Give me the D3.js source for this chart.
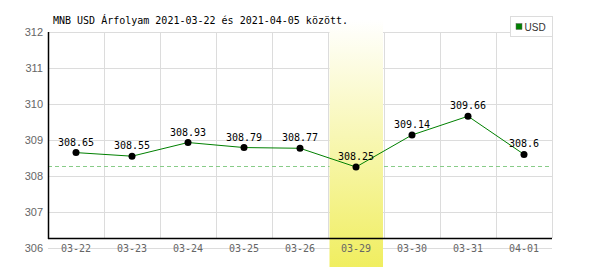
<!DOCTYPE html>
<html lang="hu">
<head>
<meta charset="UTF-8" />
<title>MNB USD árfolyam</title>
<script src="https://cdn.jsdelivr.net/npm/d3@7"></script>
<style>
  body { margin: 0; background: #fff; }
  .mono { font-family: "DejaVu Sans Mono", monospace; }
  .sans { font-family: "Liberation Sans", Arial, sans-serif; }
</style>
</head>
<body>
<svg width="600" height="270"></svg>
<script>
// data
var days = ["03-22", "03-23", "03-24", "03-25", "03-26", "03-29", "03-30", "03-31", "04-01"];
var rates = [308.65, 308.55, 308.93, 308.79, 308.77, 308.25, 309.14, 309.66, 308.6];
var yTicks = [306, 307, 308, 309, 310, 311, 312];
var highlightDay = "03-29";
var title = "MNB USD Árfolyam 2021-03-22 és 2021-04-05 között.";

var svg = d3.select("svg");
var plotLeft = 48, plotRight = 552, plotTop = 32, axisY = 238;

var x = d3.scaleBand().domain(days).range([plotLeft, plotRight]);
var y = d3.scaleLinear().domain([306, 312]).range([248, plotTop]);

// grid
var grid = svg.append("g").attr("shape-rendering", "crispEdges");
grid.selectAll("line.h")
  .data(yTicks)
  .enter().append("line")
  .attr("x1", plotLeft).attr("x2", plotRight)
  .attr("y1", function(d) { return Math.round(y(d)) + 0.5; })
  .attr("y2", function(d) { return Math.round(y(d)) + 0.5; })
  .attr("stroke", "#dcdcdc");

grid.selectAll("line.v")
  .data(days)
  .enter().append("line")
  .attr("x1", function(d) { return x(d) + x.bandwidth() + 0.5; })
  .attr("x2", function(d) { return x(d) + x.bandwidth() + 0.5; })
  .attr("y1", plotTop).attr("y2", axisY)
  .attr("stroke", "#dcdcdc");

// min line (dashed)
var minVal = d3.min(rates);
svg.append("line")
  .attr("x1", plotLeft).attr("x2", plotRight)
  .attr("y1", Math.round(y(minVal)) - 0.5).attr("y2", Math.round(y(minVal)) - 0.5)
  .attr("stroke", "#88cc88")
  .attr("stroke-dasharray", "4,3");

// highlight band
var defs = svg.append("defs");
var grad = defs.append("linearGradient")
  .attr("id", "hl").attr("x1", 0).attr("x2", 0).attr("y1", 0).attr("y2", 1);
grad.append("stop").attr("offset", "0%").attr("stop-color", "#ffffff");
grad.append("stop").attr("offset", "100%").attr("stop-color", "#f0ee60");

svg.append("rect")
  .attr("x", x(highlightDay) + 1.5)
  .attr("y", 20)
  .attr("width", x.bandwidth() - 2.5)
  .attr("height", 247)
  .attr("fill", "url(#hl)");

// axes lines
svg.append("line")
  .attr("x1", plotLeft + 0.5).attr("x2", plotLeft + 0.5)
  .attr("y1", plotTop).attr("y2", axisY + 1)
  .attr("stroke", "#000").attr("stroke-width", 1.5);
svg.append("line")
  .attr("x1", plotLeft).attr("x2", plotRight)
  .attr("y1", axisY + 0.5).attr("y2", axisY + 0.5)
  .attr("stroke", "#000").attr("stroke-width", 1.5);

// y labels
svg.selectAll("text.yl")
  .data(yTicks)
  .enter().append("text")
  .attr("class", "sans")
  .attr("x", 43)
  .attr("y", function(d) { return y(d) + 4; })
  .attr("text-anchor", "end")
  .attr("font-size", 11)
  .attr("fill", "#666")
  .text(function(d) { return d; });

// x labels
svg.selectAll("text.xl")
  .data(days)
  .enter().append("text")
  .attr("class", "mono")
  .attr("x", function(d) { return x(d) + x.bandwidth() / 2; })
  .attr("y", 252)
  .attr("text-anchor", "middle")
  .attr("font-size", 10)
  .attr("fill", "#666")
  .text(function(d) { return d; });

// line
var line = d3.line()
  .x(function(d, i) { return x(days[i]) + x.bandwidth() / 2; })
  .y(function(d) { return y(d); });
svg.append("path")
  .datum(rates)
  .attr("d", line)
  .attr("fill", "none")
  .attr("stroke", "#008000")
  .attr("stroke-width", 1);

// points
svg.selectAll("circle")
  .data(rates)
  .enter().append("circle")
  .attr("cx", function(d, i) { return x(days[i]) + x.bandwidth() / 2; })
  .attr("cy", function(d) { return y(d); })
  .attr("r", 3.5)
  .attr("fill", "#000");

// value labels
svg.selectAll("text.vl")
  .data(rates)
  .enter().append("text")
  .attr("class", "mono")
  .attr("x", function(d, i) { return x(days[i]) + x.bandwidth() / 2; })
  .attr("y", function(d) { return y(d) - 7; })
  .attr("text-anchor", "middle")
  .attr("font-size", 10)
  .attr("fill", "#000")
  .text(function(d) { return d; });

// title
svg.append("text")
  .attr("class", "mono")
  .attr("x", 53)
  .attr("y", 24)
  .attr("font-size", 10)
  .attr("fill", "#000")
  .text(title);

// legend
svg.append("rect")
  .attr("x", 510.5).attr("y", 16.5)
  .attr("width", 42).attr("height", 20)
  .attr("fill", "#fff").attr("stroke", "#dcdcdc");
svg.append("rect")
  .attr("x", 516).attr("y", 23.5)
  .attr("width", 6).attr("height", 6)
  .attr("fill", "#008000").attr("stroke", "#666").attr("stroke-width", 0.5);
svg.append("text")
  .attr("class", "sans")
  .attr("x", 524.5).attr("y", 30.5)
  .attr("font-size", 10)
  .attr("fill", "#333")
  .text("USD");
</script>
</body>
</html>
